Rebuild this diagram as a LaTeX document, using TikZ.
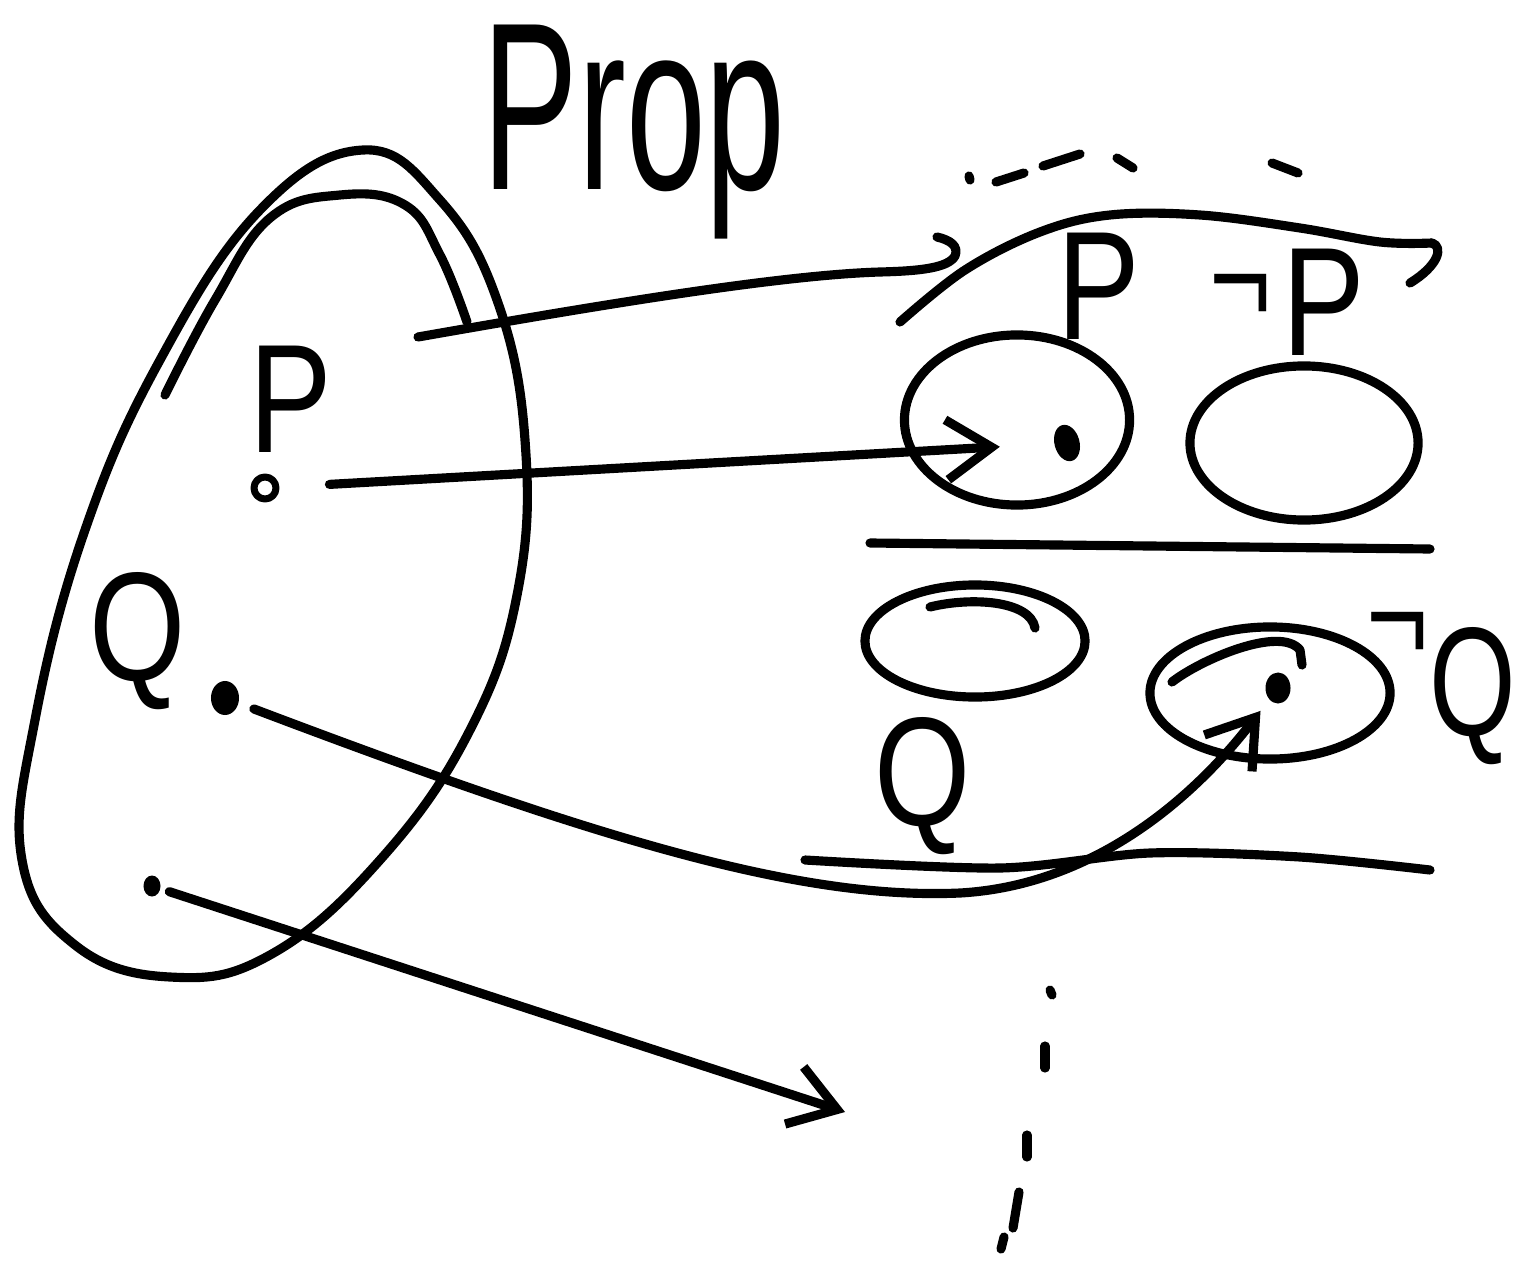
\documentclass[tikz,border=0pt]{standalone}
\usepackage{fontspec}
\setmainfont{Liberation Sans}
\usepackage{graphicx}
\usetikzlibrary{arrows.meta,shapes.geometric}
\newcommand{\hlbl}[1]{\scalebox{0.8}[1]{\fontsize{44}{44}\selectfont #1}}
\newcommand{\hneg}[1]{\raisebox{#1}{\fontsize{38}{38}\selectfont ¬}}
\begin{document}
\begin{tikzpicture}[x=0.01cm,y=-0.01cm, line width=2.6pt, line cap=round, line join=round,
  lbl/.style={inner sep=0, anchor=base west},
  region/.style={draw, ellipse, inner sep=0},
  dot/.style={fill, ellipse, inner sep=0},
  arr/.style={-{Straight Barb[length=0.45cm,width=0.6cm]}}]
\fill[white] (0,0) rectangle (1516,1261);
\useasboundingbox (0,0) rectangle (1516,1261);

% the set Prop
\draw plot[smooth cycle, tension=0.7] coordinates {(363,150) (440,200) (497,300) (525,440) (518,590) (470,730) (380,860) (270,955) (170,977) (75,945) (22,860) (35,720) (85,530) (160,360) (260,210)};
\draw plot[smooth, tension=0.7] coordinates {(165,395) (215,300) (270,218) (340,195) (405,205) (440,255) (467,322)};
\node[anchor=base west, inner sep=0] (prop) at (478,190) {\scalebox{0.6}[1]{\fontsize{68}{68}\selectfont Prop}};

% connector from Prop to the upper region
\coordinate (ls) at (418,337);
\coordinate (le) at (937,237);
\draw (ls) .. controls (600,305) and (780,275) .. (880,272) .. controls (920,271) and (948,268) .. (955,256) .. controls (959,246) and (950,240) .. (le);

% upper boundary and dashed line
\draw plot[smooth, tension=0.6] coordinates {(900,322) (965,270) (1040,232) (1110,215) (1200,215) (1300,228) (1380,242) (1432,243)};
\draw (1432,243) .. controls (1444,247) and (1438,266) .. (1410,283);
\draw (969,176) -- (970,180);
\draw (996,182) -- (1024,173);
\draw (1043,166) -- (1080,154);
\draw (1117,158) -- (1133,168);
\draw (1272,163) -- (1298,173);

% regions
\node[region, minimum width=2.25cm, minimum height=1.7cm] (E1) at (1017,420) {};
\node[region, minimum width=2.28cm, minimum height=1.54cm] (E2) at (1304,443) {};
\node[region, minimum width=2.2cm, minimum height=1.12cm] (E3) at (975,641) {};
\node[region, minimum width=2.4cm, minimum height=1.32cm] (E4) at (1270,693) {};
\draw (930,607) .. controls (970,597) and (1030,600) .. (1035,628);
\draw (1172,682) .. controls (1200,660) and (1280,625) .. (1300,650) -- (1302,665);

% separating lines
\draw (870,543) -- (1430,549);
\draw plot[smooth] coordinates {(805,860) (1000,868) (1150,853) (1300,857) (1430,870)};

% vertical dashes
\draw (1050,990) -- (1052,995);
\draw (1045,1046) -- (1045,1068);
\draw (1027,1135) -- (1027,1157);
\draw (1019,1192) -- (1013,1228);
\draw (1004,1237) -- (1001,1249);

% labels
\node[lbl] (lP) at (245,452) {\hlbl{P}};
\node[lbl] (tP) at (1053,340) {\hlbl{P}};
\node[lbl] (tnP) at (1205,355) {\scalebox{0.8}[1]{\hneg{9pt}}\hspace{3pt}\hlbl{P}};
\node[lbl] (lQ) at (85,680) {\hlbl{Q}};
\node[lbl] (bQ) at (870,825) {\hlbl{Q}};
\node[lbl] (bnQ) at (1362,735) {\scalebox{0.8}[1]{\hneg{21pt}}\scalebox{0.72}[1]{\fontsize{44}{44}\selectfont Q}};

% points
\node[draw, circle, minimum size=0.22cm, inner sep=0, line width=2pt] (p) at (265,488) {};
\node[dot, minimum width=0.28cm, minimum height=0.34cm] (q) at (225,698) {};
\node[dot, minimum width=0.17cm, minimum height=0.21cm] (r) at (152,886) {};
\node[dot, minimum width=0.25cm, minimum height=0.37cm, rotate=15] (pd) at (1067,443) {};
\node[dot, minimum width=0.25cm, minimum height=0.31cm] (qd) at (1278,688) {};
\coordinate (t) at (845,1112);

% arrows
\draw[arr, shorten <=0.5cm, shorten >=0.5cm] (p) -- (pd);
\draw[arr, shorten <=0.12cm, shorten >=0.1cm] (q) .. controls (600,840) and (800,900) .. (960,893) .. controls (1100,885) and (1200,790) .. (qd);
\draw[arr, shorten <=0.05cm] (r) -- (t);
\end{tikzpicture}
\end{document}
